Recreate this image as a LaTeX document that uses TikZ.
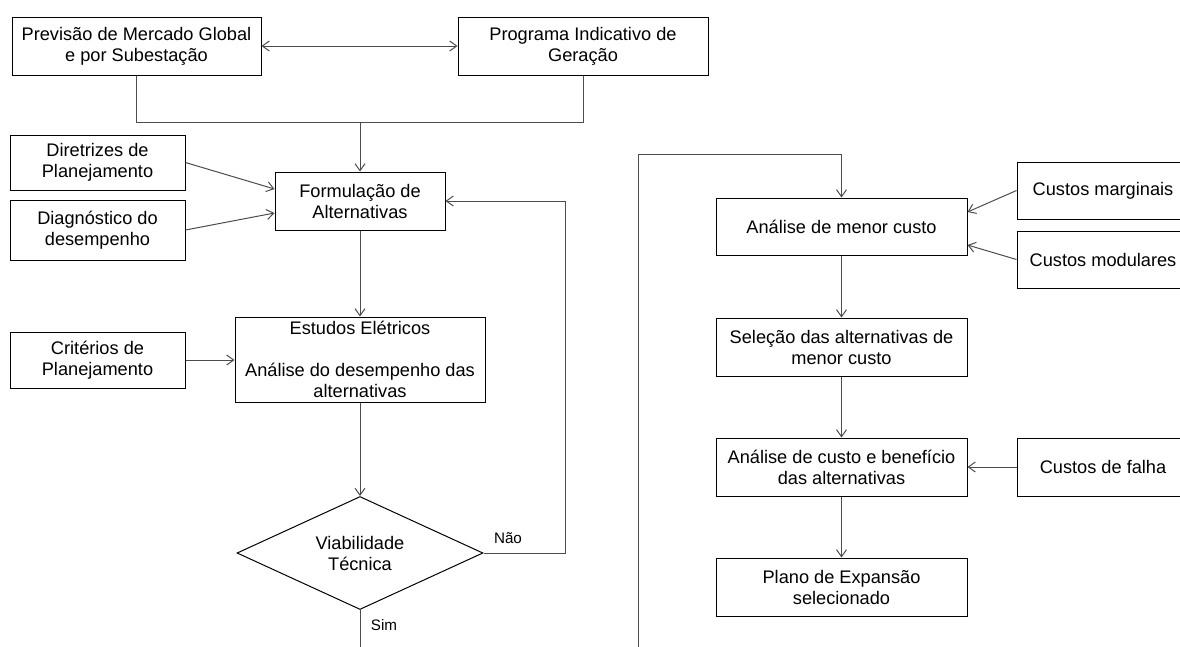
\documentclass[tikz,border=0pt]{standalone}
\usepackage{fontspec}
\setmainfont{Liberation Sans}
\usetikzlibrary{arrows.meta,shapes.geometric}

\tikzset{
  caixa/.style={draw=black, line width=1pt, align=center, inner sep=0pt,
    minimum width=175pt, minimum height=57pt, font=\fontsize{18.2}{21}\selectfont},
  losango/.style={draw=black, line width=1pt, diamond, shape aspect=2.2, align=center,
    inner sep=0pt, minimum width=246pt, minimum height=113pt, font=\fontsize{18.2}{21}\selectfont},
  seta/.style={draw=black!70, line width=1pt, -{Straight Barb[length=7pt,width=10pt]}},
  liga/.style={draw=black!70, line width=1pt},
  rotulo/.style={font=\fontsize{15.2}{18}\selectfont, inner sep=0pt},
}

\begin{document}
\begin{tikzpicture}[x=1pt,y=-1pt]
  \clip (0,0) rectangle (1180,646);

  \node[caixa, minimum width=249pt, minimum height=58pt] (nPrev) at (136.5,46) {Previsão de Mercado Global\\e por Subestação};
  \node[caixa, minimum width=250pt, minimum height=58pt] (nProg) at (583,46) {Programa Indicativo de\\Geração};
  \node[caixa, minimum height=55pt] (nDir) at (97.5,162.5) {Diretrizes de\\Planejamento};
  \node[caixa, minimum height=60pt] (nDiag) at (97.5,230) {Diagnóstico do\\desempenho};
  \node[caixa, minimum width=170pt, minimum height=58pt] (nForm) at (360,201) {Formulação de\\Alternativas};
  \node[caixa, minimum height=56pt] (nCrit) at (97.5,360) {Critérios de\\Planejamento};
  \node[caixa, minimum width=250pt, minimum height=85pt] (nEst) at (360,359.5) {Estudos Elétricos\\[21pt]Análise do desempenho das\\alternativas};
  \node[losango] (nViab) at (360,553) {Viabilidade\\Técnica};
  \node[rotulo] (tNao) at (508,538) {Não};
  \node[rotulo] (tSim) at (384,625) {Sim};

  \node[caixa, minimum width=251pt, minimum height=57pt] (nMenor) at (841.5,226.5) {Análise de menor custo};
  \node[caixa, minimum width=172pt] (nMarg) at (1103,190.5) {Custos marginais};
  \node[caixa, minimum width=172pt] (nModul) at (1103,259.5) {Custos modulares};
  \node[caixa, minimum width=251pt, minimum height=58pt] (nSel) at (841.5,347) {Seleção das alternativas de\\menor custo};
  \node[caixa, minimum width=251pt, minimum height=58pt] (nBenef) at (841.5,467) {Análise de custo e benefício\\das alternativas};
  \node[caixa, minimum width=172pt, minimum height=58pt] (nFalha) at (1103,467) {Custos de falha};
  \node[caixa, minimum width=251pt, minimum height=58pt] (nPlano) at (841.5,587) {Plano de Expansão\\selecionado};

  \coordinate (pA) at (360,122);
  \coordinate (pD) at (565,201);
  \coordinate (pE) at (360,650);
  \coordinate (pF) at (638,650);
  \coordinate (pG) at (841.5,154);

  \draw[liga, {Straight Barb[length=7pt,width=10pt]}-{Straight Barb[length=7pt,width=10pt]}] (nPrev) -- (nProg);
  \draw[liga] (nPrev.south) |- (nProg.south |- pA) -- (nProg.south);
  \draw[seta] (pA) -- (nForm.north);
  \draw[seta] (nDir.east) -- (nForm.west |- 0,189);
  \draw[seta] (nDiag.east) -- (nForm.west |- 0,213);
  \draw[seta] (nForm.south) -- (nEst.north);
  \draw[seta] (nCrit.east) -- (nEst.west |- nCrit.east);
  \draw[seta] (nEst.south) -- (nViab.north);
  \draw[seta] (nViab.east) -| (pD) -- (nForm.east);
  \draw[liga] (nViab.south) -- (pE);

  \draw[seta] (pF) |- (pG) -- (nMenor.north);
  \draw[seta] (nMarg.west) -- (nMenor.east |- 0,212);
  \draw[seta] (nModul.west) -- (nMenor.east |- 0,245);
  \draw[seta] (nMenor) -- (nSel);
  \draw[seta] (nSel) -- (nBenef);
  \draw[seta] (nFalha) -- (nBenef);
  \draw[seta] (nBenef) -- (nPlano);
\end{tikzpicture}
\end{document}
